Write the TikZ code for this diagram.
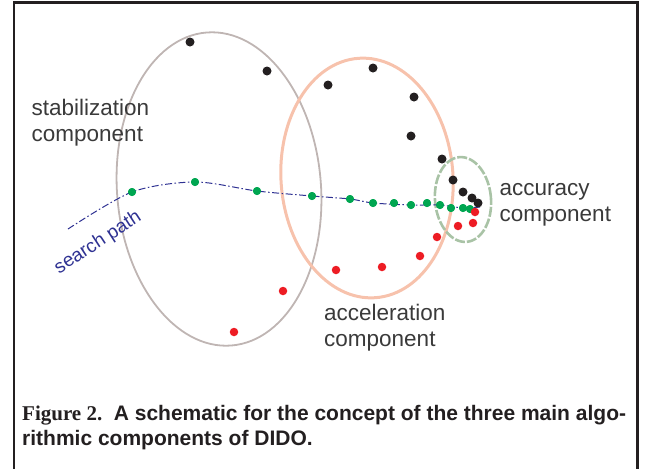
\documentclass[tikz,border=0pt]{standalone}
\usepackage{fontspec}
\setmainfont{Liberation Sans}
\newfontfamily\capserif{Liberation Serif}
\usepackage{xcolor}
\usetikzlibrary{positioning}
\definecolor{cstab}{HTML}{BFB5B3}
\definecolor{cacce}{HTML}{F7C2AC}
\definecolor{caccu}{HTML}{A9C3A6}
\definecolor{cdark}{HTML}{231F20}
\definecolor{cgreen}{HTML}{00A651}
\definecolor{cred}{HTML}{ED1C24}
\definecolor{cpath}{HTML}{2E3192}
\definecolor{ctext}{HTML}{3A3A3A}

\begin{document}
\begin{tikzpicture}[
    x=1pt, y=-1pt,
    blackdot/.style={circle, fill=cdark, inner sep=0pt, minimum size=9pt},
    greendot/.style={circle, fill=cgreen, inner sep=0pt, minimum size=8pt},
    reddot/.style={circle, fill=cred, inner sep=0pt, minimum size=8.5pt},
    comp/.style={font=\fontsize{22.5}{26}\selectfont, text=ctext, align=left,
                 inner sep=0pt, anchor=base west},
    caption/.style={font=\fontsize{21}{25}\selectfont\bfseries, text=cdark,
                    inner sep=0pt, anchor=base west},
]
\useasboundingbox (0,0) rectangle (649,469);
\draw[cdark, line width=2.6pt] (13.8,469) -- (13.8,2.5) -- (637.5,2.5) -- (637.5,469);

% the three components
\draw[cstab, line width=1.8pt] (219,189) ellipse [x radius=102pt, y radius=157pt, rotate=4.5];
\draw[cacce, line width=3pt] (367,178) ellipse [x radius=86pt, y radius=120pt, rotate=4];
\draw[caccu, line width=2.6pt, dash pattern=on 10pt off 2pt]
    (463,199.5) ellipse [x radius=28pt, y radius=42.5pt, rotate=5];

% search path
\coordinate (sp0) at (68,229);
\coordinate (spend) at (480,207);
\node[greendot] (g1) at (132,192) {};
\node[greendot] (g2) at (195,182) {};
\node[greendot] (g3) at (257,191) {};
\node[greendot] (g4) at (312,196) {};
\node[greendot] (g5) at (350,199) {};
\node[greendot] (g6) at (373,203) {};
\node[greendot] (g7) at (394,203) {};
\node[greendot] (g8) at (411,205) {};
\node[greendot] (g9) at (427,203) {};
\node[greendot] (g10) at (440,205) {};
\node[greendot] (g11) at (451,208) {};
\node[greendot] (g12) at (463,208) {};
\node[greendot] (g13) at (470,209) {};
\draw[cpath, line width=1pt, dash pattern=on 7pt off 2.5pt on 1.5pt off 2.5pt]
    plot[smooth, tension=0.5] coordinates {(sp0) (g1) (g2) (g3) (g4) (g5) (g6) (g8) (g10) (g12) (spend)};
\foreach \n in {1,...,13} {\node[greendot] at (g\n) {};}

% black dots
\node[blackdot] (b1) at (190,42) {};
\node[blackdot] (b2) at (267,71) {};
\node[blackdot] (b3) at (328,85) {};
\node[blackdot] (b4) at (373,68) {};
\node[blackdot] (b5) at (414,97) {};
\node[blackdot] (b6) at (411,136) {};
\node[blackdot] (b7) at (442,159) {};
\node[blackdot] (b8) at (453,180) {};
\node[blackdot] (b9) at (463,192) {};
\node[blackdot] (b10) at (472,198) {};
\node[blackdot] (b11) at (478,203) {};

% red dots
\node[reddot] (r1) at (234,332) {};
\node[reddot] (r2) at (283,291) {};
\node[reddot] (r3) at (336,270) {};
\node[reddot] (r4) at (382,267) {};
\node[reddot] (r5) at (420,256) {};
\node[reddot] (r6) at (437,237) {};
\node[reddot] (r7) at (458,226) {};
\node[reddot] (r8) at (473,223) {};
\node[reddot] (r9) at (475,212) {};

% labels (base = last line)
\node[comp] (stab) at (31.5,141.7) {stabilization\\component};
\node[comp] (acce) at (324,346.7) {acceleration\\component};
\node[comp] (accu) at (499.5,221.5) {accuracy\\component};
\node[font=\fontsize{19}{22}\selectfont, text=cpath, rotate=33, inner sep=0pt]
    (spath) at (98,243) {search path};

\node[caption] (cap1) at (22,420)
    {{\capserif Figure 2.}\hspace{0.55em}A schematic for the concept of the three main algo-};
\node[caption] (cap2) at (22,445) {rithmic components of DIDO.};
\end{tikzpicture}
\end{document}
